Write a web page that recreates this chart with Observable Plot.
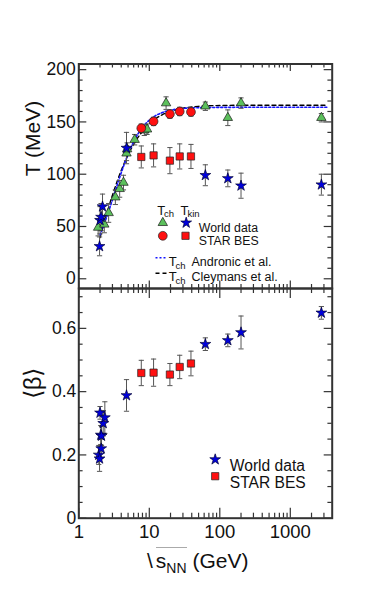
<!DOCTYPE html>
<html><head><meta charset="utf-8">
<script src="https://cdn.jsdelivr.net/npm/d3@7"></script>
<script src="https://cdn.jsdelivr.net/npm/@observablehq/plot@0.6"></script>
<style>
body{margin:0;background:#fff;font-family:"Liberation Sans",Arial,Helvetica,sans-serif;}
#wrap{position:relative;width:372px;height:600px;overflow:hidden;background:#fff;}
#wrap svg{position:absolute;left:0;}
#xtitle{position:absolute;left:147px;top:550px;font-size:21px;line-height:21px;color:#111;white-space:nowrap;}
#xtitle .rt{border-top:1px solid #aaa;padding-top:1px;margin-left:3px;}
#xtitle sub{font-size:14px;vertical-align:-5px;line-height:0;}
</style></head><body><div id="wrap"><div id="xtitle">\<span class="rt">s<sub>NN</sub></span> (GeV)</div></div>
<script>
// ---------- data ----------
// T_ch, world data (green triangles)
const energyTchWorld = [1.88, 2.3, 2.65, 3.3, 3.8, 4.3, 4.75, 4.85, 6.2, 8.5, 9.3, 17.3, 62.4, 130, 200, 2760];
const tchWorld       = [49, 52, 63, 78, 86, 92, 120, 124, 133, 142, 143, 168, 165, 154, 168, 154];
const tchWorldErr    = [8, 8, 9, 7, 8, 7, 7, 6, 5, 5, 5, 6, 4, 7.5, 5, 4];
// T_kin, world data (blue stars)
const energyTkinWorld = [1.97, 2.0, 2.07, 2.17, 4.75, 62.4, 130, 200, 2760];
const tkinWorld       = [31, 56, 59, 69, 125, 99, 96, 89, 90];
const tkinWorldErr    = [9, 13, 13, 12, 15, 10, 8, 12, 10];
// STAR BES
const energyStar = [7.7, 11.5, 19.6, 27, 39];
const tchStar    = [144, 150.5, 157.5, 160, 159.5];
const tchStarErr = [4, 4, 4, 4, 4];
const tkinStar    = [116.5, 118, 113, 117, 117];
const tkinStarErr = [10.5, 11, 12.5, 12, 11.5];
const betaStar    = [0.459, 0.46, 0.454, 0.478, 0.489];
const betaStarErr = [0.04, 0.043, 0.035, 0.037, 0.039];
// <beta>, world data (blue stars)
const energyBetaWorld = [1.92, 1.97, 2.0, 2.05, 2.1, 2.08, 2.22, 2.34, 4.75, 62.4, 130, 200, 2760];
const betaWorld       = [0.20, 0.188, 0.333, 0.263, 0.26, 0.22, 0.30, 0.318, 0.388, 0.55, 0.562, 0.587, 0.649];
const betaWorldErr    = [0.03, 0.04, 0.02, 0.03, 0.03, 0.03, 0.04, 0.05, 0.05, 0.02, 0.02, 0.052, 0.02];
// T_ch parametrization curves
const curveEnergy = [2, 2.25, 2.5, 2.75, 3, 3.5, 4, 4.5, 5, 6, 7, 8, 10, 12, 15, 20, 30, 50, 100, 300, 1000, 3300];
const andronic    = [42, 51, 59.5, 67.7, 75.5, 89.5, 101.4, 111.1, 119.2, 131.1, 139.2, 144.8, 151.8, 155.6, 158.8, 161.2, 162.9, 163.6, 163.9, 164, 164, 164];
const cleymans    = [39.4, 51.8, 62.6, 71.9, 79.9, 93.2, 103.6, 111.8, 118.5, 128.6, 135.7, 141.0, 148.1, 152.5, 156.6, 160.2, 163.2, 164.9, 165.7, 166, 166, 166];
// ticks
const xMajor = [1, 10, 100, 1000];
const xMinor = [2,3,4,5,6,7,8,9,20,30,40,50,60,70,80,90,200,300,400,500,600,700,800,900,2000,3000];
const xLabels = ["1", "10", "100", "1000"];
const yMajorT = [0, 50, 100, 150, 200];
const yMinorT = [10,20,30,40,60,70,80,90,110,120,130,140,160,170,180,190];
const yLabelsT = ["0", "50", "100", "150", "200"];
const yMajorB = [0, 0.2, 0.4, 0.6];
const yMinorB = [0.05,0.1,0.15,0.25,0.3,0.35,0.45,0.5,0.55,0.65,0.7];
const yLabelsB = ["0", "0.2", "0.4", "0.6"];
// text
const yTitleT = "T (MeV)";
const yTitleB = "⟨β⟩";
const legWorld = "World data", legStar = "STAR BES";
const legAndronic = "Andronic et al.", legCleymans = "Cleymans et al.";

// ---------- layout & style ----------
const FONT = "'Liberation Sans', Arial, Helvetica, sans-serif";
const W = 372, mL = 78.3, mR = 40.3, innerW = W - mL - mR;
const topH = 290, topMT = 63.5, topMB = 2, H1 = topH - topMT - topMB;
const botH = 259, botMT = 2, botMB = 27.3, H2 = botH - botMT - botMB;
const xDomain = [1, 3930];
const FRAME = "#333", ERR = "#555", TXT = "#111";
const GREEN = "#5cc05c", BLUE = "#0000dd", RED = "#ff1010";

const rows = (xs, vs, es) => xs.map((e, i) => ({e, v: vs[i], err: es ? es[i] : 0}));
const capSym = {draw(ctx) { ctx.moveTo(-2.6, 0); ctx.lineTo(2.6, 0); }};
const lineSym = {draw(ctx) { ctx.moveTo(-6, 0); ctx.lineTo(6, 0); }};

function errorMarks(data) {
  return [
    Plot.ruleX(data, {x: "e", y1: d => d.v - d.err, y2: d => d.v + d.err, stroke: ERR, strokeWidth: 1}),
    Plot.dot(data, {x: "e", y: d => d.v + d.err, symbol: capSym, stroke: ERR, strokeWidth: 1, fill: "none"}),
    Plot.dot(data, {x: "e", y: d => d.v - d.err, symbol: capSym, stroke: ERR, strokeWidth: 1, fill: "none"})
  ];
}
const MK = {
  tri: {symbol: "triangle", r: 3.5, fill: GREEN, stroke: "#1a1a1a", strokeWidth: 0.7},
  star: {symbol: "star", r: 3.4, fill: BLUE, stroke: "#000033", strokeWidth: 0.7},
  circ: {symbol: "circle", r: 4.4, fill: RED, stroke: "#222", strokeWidth: 0.7},
  sq: {symbol: "square", r: 4.1, fill: RED, stroke: "#222", strokeWidth: 0.7}
};
function tickMarks(xMaj, xMin, yMaj, yMin, H, xMajL, xMinL, yMajL, yMinL) {
  const o = {stroke: FRAME, strokeWidth: 1.2};
  return [
    Plot.tickX(xMaj, {x: d => d, insetTop: H - xMajL, ...o}),
    Plot.tickX(xMin, {x: d => d, insetTop: H - xMinL, ...o}),
    Plot.tickX(xMaj, {x: d => d, insetBottom: H - xMajL, ...o}),
    Plot.tickX(xMin, {x: d => d, insetBottom: H - xMinL, ...o}),
    Plot.tickY(yMaj, {y: d => d, insetRight: innerW - yMajL, ...o}),
    Plot.tickY(yMin, {y: d => d, insetRight: innerW - yMinL, ...o}),
    Plot.tickY(yMaj, {y: d => d, insetLeft: innerW - yMajL, ...o}),
    Plot.tickY(yMin, {y: d => d, insetLeft: innerW - yMinL, ...o})
  ];
}
const legText = (s, dx, dy, size) => Plot.text([s], {frameAnchor: "top-left", dx, dy, textAnchor: "start", fontSize: size, fill: TXT, fontFamily: FONT});
const legDot = (mk, dx, dy, extra = {}) => Plot.dot([0], {frameAnchor: "top-left", dx, dy, ...mk, ...extra});

// ---------- top panel ----------
const curveRows = curveEnergy.map((e, i) => ({e, a: andronic[i], c: cleymans[i]}));
const topPlot = Plot.plot({
  width: W, height: topH, marginLeft: mL, marginRight: mR, marginTop: topMT, marginBottom: topMB,
  style: {background: "transparent", overflow: "visible", fontFamily: FONT, color: TXT},
  x: {type: "log", domain: xDomain, axis: null},
  y: {domain: [-9.3, 205.4], axis: null},
  marks: [
    Plot.line(curveRows, {x: "e", y: "c", stroke: "#000", strokeWidth: 1.4, strokeDasharray: "4,3", curve: "monotone-x"}),
    Plot.line(curveRows, {x: "e", y: "a", stroke: "#1515ff", strokeWidth: 1.6, strokeDasharray: "2,2", curve: "monotone-x"}),
    ...errorMarks(rows(energyTchWorld, tchWorld, tchWorldErr)),
    ...errorMarks(rows(energyTkinWorld, tkinWorld, tkinWorldErr)),
    ...errorMarks(rows(energyStar, tkinStar, tkinStarErr)),
    ...errorMarks(rows(energyStar, tchStar, tchStarErr)),
    Plot.dot(rows(energyTchWorld, tchWorld), {x: "e", y: "v", ...MK.tri}),
    Plot.dot(rows(energyTkinWorld, tkinWorld), {x: "e", y: "v", ...MK.star}),
    Plot.dot(rows(energyStar, tchStar), {x: "e", y: "v", ...MK.circ}),
    Plot.dot(rows(energyStar, tkinStar), {x: "e", y: "v", ...MK.sq}),
    ...tickMarks(xMajor, xMinor, yMajorT, yMinorT, H1, 7.5, 4, 8, 4.3),
    Plot.frame({stroke: FRAME, strokeWidth: 2}),
    Plot.axisY(yMajorT, {tickSize: 0, tickPadding: 3, fontSize: 17.5, tickFormat: (d, i) => yLabelsT[i], label: null, fill: TXT}),
    Plot.text([yTitleT], {frameAnchor: "left", dx: -45.5, rotate: -90, fontSize: 21, fill: TXT, fontFamily: FONT}),
    // legend
    legText("T", 78.4, 141.5, 13), legText("ch", 85.3, 146.5, 9.5),
    legText("T", 101.7, 141.5, 13), legText("kin", 108.6, 146.5, 9.5),
    legDot(MK.tri, 84, 158.8), legDot(MK.star, 107.4, 158.8), legText(legWorld, 120, 159.1, 12.3),
    legDot(MK.circ, 84, 171.8), legDot(MK.sq, 106.7, 171.8), legText(legStar, 120, 172.5, 12.3),
    legDot({symbol: lineSym, fill: "none", stroke: "#1515ff", strokeWidth: 1.4, strokeDasharray: "2,2"}, 82.7, 193.8),
    legText("T", 90, 193.2, 13), legText("ch", 96.8, 198, 9.5), legText(legAndronic, 112.7, 193.5, 12.5),
    legDot({symbol: lineSym, fill: "none", stroke: "#000", strokeWidth: 1.4, strokeDasharray: "4,3"}, 82.7, 209.2),
    legText("T", 90, 208.2, 13), legText("ch", 96.8, 213, 9.5), legText(legCleymans, 112.7, 208.5, 12.5)
  ]
});
topPlot.style.top = "0px";

// ---------- bottom panel ----------
const botPlot = Plot.plot({
  width: W, height: botH, marginLeft: mL, marginRight: mR, marginTop: botMT, marginBottom: botMB,
  style: {background: "transparent", overflow: "visible", fontFamily: FONT, color: TXT},
  x: {type: "log", domain: xDomain, axis: null},
  y: {domain: [0, 0.726], axis: null},
  marks: [
    ...errorMarks(rows(energyBetaWorld, betaWorld, betaWorldErr)),
    ...errorMarks(rows(energyStar, betaStar, betaStarErr)),
    Plot.dot(rows(energyBetaWorld, betaWorld), {x: "e", y: "v", ...MK.star}),
    Plot.dot(rows(energyStar, betaStar), {x: "e", y: "v", ...MK.sq}),
    ...tickMarks(xMajor, xMinor, yMajorB, yMinorB, H2, 10, 5, 8, 4.3),
    Plot.frame({stroke: FRAME, strokeWidth: 2}),
    Plot.axisY(yMajorB, {tickSize: 0, tickPadding: 2.5, fontSize: 17.5, tickFormat: (d, i) => yLabelsB[i], label: null, fill: TXT}),
    Plot.text(xMajor, {x: d => d, frameAnchor: "bottom", dy: 7, lineAnchor: "top", text: (d, i) => xLabels[i], fontSize: 18.5, fill: TXT, fontFamily: FONT}),
    Plot.text([yTitleB], {frameAnchor: "left", dx: -45, dy: -4, rotate: -90, fontSize: 24, fill: TXT, fontFamily: FONT}),
    legDot(MK.star, 136.4, 171), legText(legWorld, 151, 171.5, 15.6),
    legDot(MK.sq, 136.4, 187.7), legText(legStar, 151, 188, 15.6)
  ]
});
botPlot.style.top = "286px";

const wrap = document.getElementById("wrap");
wrap.insertBefore(botPlot, wrap.firstChild);
wrap.insertBefore(topPlot, wrap.firstChild);
</script></body></html>
